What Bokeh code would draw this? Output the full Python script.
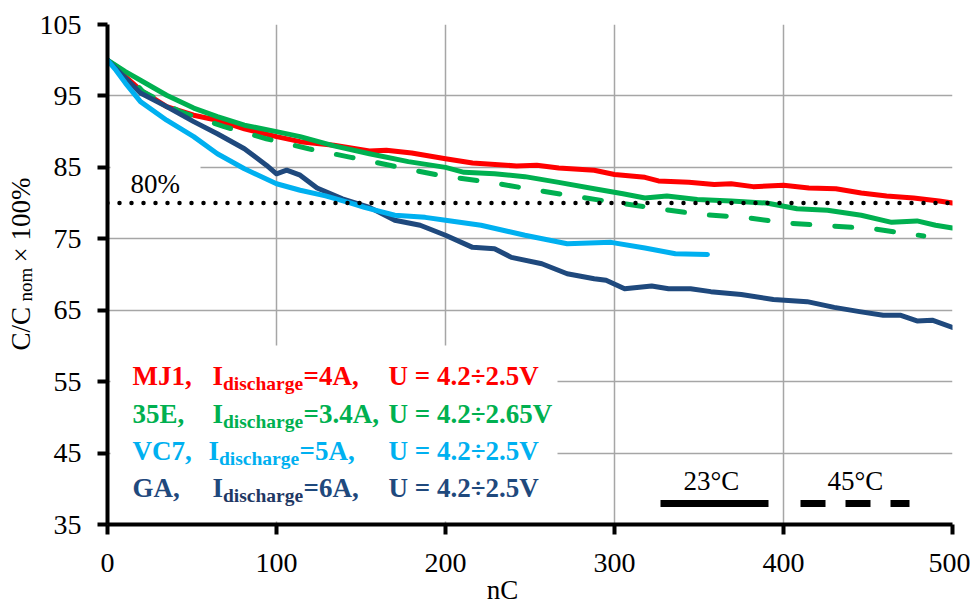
import math
from bokeh.plotting import figure
from bokeh.layouts import row, column
from bokeh.models import Range1d, FixedTicker, Label, BoxAnnotation
from bokeh.embed import file_html
from bokeh.resources import INLINE

# ---------------- data ----------------
mj1_n = [0, 5, 10.6, 19.5, 35, 51, 65, 81, 100, 114, 134, 155, 165, 180, 200, 216, 242, 254, 267, 288,
         300, 318, 326, 344, 359, 369, 382, 400, 415, 431, 446, 461, 477, 492, 500]
mj1_c = [100, 99.0, 97.7, 95.8, 93.5, 92.3, 91.6, 90.4, 89.3, 88.6, 88.1, 87.3, 87.4, 87.0, 86.2, 85.6, 85.2, 85.3, 84.9, 84.6,
         84.0, 83.6, 83.1, 82.9, 82.6, 82.7, 82.3, 82.5, 82.1, 82.0, 81.4, 81.0, 80.7, 80.3, 80.0]

e35_n = [0, 10.6, 19.5, 35, 51, 65, 81, 100, 114, 134, 155, 178, 200, 211, 229, 247, 267, 288, 305, 318,
         331, 349, 369, 390, 408, 426, 446, 464, 479, 490, 500]
e35_c = [100, 98.4, 97.2, 95.1, 93.3, 92.1, 90.9, 90.0, 89.3, 88.0, 86.9, 85.8, 85.0, 84.3, 84.1, 83.7, 82.9, 82.0, 81.3, 80.7,
         81.0, 80.5, 80.3, 80.0, 79.2, 79.0, 78.3, 77.3, 77.5, 76.9, 76.5]

e35h_n = [0, 10.6, 21, 43, 69, 94, 119, 144, 173, 198, 224, 249, 275, 300, 326, 351, 377, 402, 428, 453, 483]
e35h_c = [100, 98.2, 95.6, 92.8, 90.7, 89.0, 87.6, 86.4, 85.0, 83.8, 83.0, 82.0, 81.0, 80.1, 79.2, 78.4, 78.0, 77.2, 76.8, 76.4, 75.4]

vc7_n = [0, 5, 10.6, 19.5, 35, 51, 65, 81, 100, 114, 129, 144, 152, 170, 188, 200, 221, 247, 272, 298, 318, 336, 355]
vc7_c = [100, 98.6, 96.8, 94.2, 91.6, 89.3, 86.9, 84.8, 82.7, 81.8, 81.0, 80.0, 79.4, 78.3, 78.0, 77.6, 76.9, 75.5, 74.3, 74.5, 73.7, 72.9, 72.8]

ga_n = [0, 10.6, 19.5, 35, 51, 65, 81, 94, 100, 106, 114, 124, 139, 155, 170, 185, 200, 216, 229, 239, 257, 272, 288, 295,
        306, 322, 332, 345, 357, 375, 394, 414, 430, 445, 459, 469, 479, 488, 500]
ga_c = [100, 97.5, 95.4, 93.5, 91.4, 89.7, 87.6, 85.3, 84.1, 84.6, 83.9, 82.1, 80.6, 79.4, 77.6, 76.9, 75.5, 73.8, 73.6, 72.4, 71.5, 70.1, 69.4, 69.2,
        68.0, 68.4, 68.0, 68.0, 67.6, 67.2, 66.5, 66.2, 65.4, 64.8, 64.3, 64.3, 63.5, 63.6, 62.6]

limit_n = [0, 500]
limit_c = [80, 80]

x_ticks = [0, 100, 200, 300, 400, 500]
y_ticks = [35, 45, 55, 65, 75, 85, 95, 105]

RED = "#FF0000"
GREEN = "#00B050"
LBLUE = "#00B0F0"
DBLUE = "#1F497D"

FONT = "Liberation Serif"
BASE_FIX = 0.37   # empirical: rendered baseline sits this many em below the anchor

# ---------------- layout geometry (page pixels) ----------------
YL_W = 36                      # strip holding the vertical axis title
FX0, FX1, FY0, FY1 = 107.0, 952.0, 524.0, 24.0   # plot frame edges
MAIN_H = 580
XL_H = 24                      # strip holding the horizontal axis title
TOTAL_W = 970

# ---------------- main figure ----------------
p = figure(frame_width=int(FX1 - FX0), frame_height=int(FY0 - FY1),
           output_backend="svg", toolbar_location=None,
           x_range=Range1d(0, 500), y_range=Range1d(35, 105),
           min_border_left=int(FX0 - YL_W), min_border_right=int(TOTAL_W - FX1),
           min_border_top=int(FY1), min_border_bottom=int(MAIN_H - FY0))
p.outline_line_color = None
p.background_fill_color = "white"
p.border_fill_color = "white"

for ax, ticks in ((p.xaxis[0], x_ticks), (p.yaxis[0], y_ticks)):
    ax.ticker = FixedTicker(ticks=ticks)
    ax.axis_line_width = 4
    ax.axis_line_color = "black"
    ax.major_tick_line_width = 4
    ax.major_tick_line_color = "black"
    ax.major_tick_out = 10
    ax.major_tick_in = 0
    ax.minor_tick_line_color = None
    ax.major_label_text_font = FONT
    ax.major_label_text_font_size = "28px"
    ax.major_label_text_color = "black"
p.xaxis.major_label_standoff = 19
p.yaxis.major_label_standoff = 16

p.xgrid.ticker = FixedTicker(ticks=x_ticks)
p.ygrid.ticker = FixedTicker(ticks=y_ticks)
p.grid.grid_line_color = "#A6A6A6"
p.grid.grid_line_width = 1.5

# page pixel -> data helpers (for annotation placement inside the frame)
def dx(px):
    return (px - FX0) / (FX1 - FX0) * 500.0
def dy(py):
    return 35.0 + (FY0 - py) / (FY0 - FY1) * 70.0

# ---------------- series ----------------
p.line(mj1_n, mj1_c, line_color=RED, line_width=5, line_join="round", line_cap="round")
p.line(e35_n, e35_c, line_color=GREEN, line_width=5, line_join="round", line_cap="round")
p.line(e35h_n, e35h_c, line_color=GREEN, line_width=5, line_join="round", line_cap="round", line_dash="17 25")
p.line(ga_n, ga_c, line_color=DBLUE, line_width=5, line_join="round", line_cap="round")
p.line(vc7_n, vc7_c, line_color=LBLUE, line_width=5, line_join="round", line_cap="round")
p.line(limit_n, limit_c, line_color="black", line_width=4.5, line_cap="round", line_dash="0 12")

# white boxes behind texts
p.add_layout(BoxAnnotation(left=dx(110), right=dx(200), bottom=dy(197), top=dy(160),
                           fill_color="white", fill_alpha=1, line_color=None))
p.add_layout(BoxAnnotation(left=dx(110), right=dx(557), bottom=dy(521), top=dy(345),
                           fill_color="white", fill_alpha=1, line_color=None))

def lab(text, px, py, size=27, color="black", style="normal", align="left"):
    p.add_layout(Label(x=dx(px), y=dy(py - BASE_FIX * size), text=text, text_font=FONT,
                       text_font_size=f"{size}px", text_color=color, text_font_style=style,
                       text_align=align, text_baseline="alphabetic"))

# 80% label
lab("80%", 130, 193)

# series legend (rows)
rows = [
    ("MJ1,", 212, "=4A,", "U = 4.2÷2.5V", RED, RED, 385),
    ("35E,", 212, "=3.4A,", "U = 4.2÷2.65V", GREEN, GREEN, 423),
    ("VC7,", 208, "=5A,", "U = 4.2÷2.5V", LBLUE, LBLUE, 460),
    ("GA,", 212, "=6A,", "U = 4.2÷2.5V", DBLUE, "#1F3864", 497),
]
for name, xi, cur, volt, col, subcol, base in rows:
    lab(name, 132, base, color=col, style="bold")
    lab("I", xi, base, color=col, style="bold")
    lab("discharge", xi + 10.5, base + 5, size=19.5, color=subcol, style="bold")
    lab(cur, xi + 91, base, color=col, style="bold")
    lab(volt, 388, base, color=col, style="bold")

# temperature legend
lab("23°C", 683, 490)
lab("45°C", 827, 490)
p.line([dx(660), dx(768)], [dy(503), dy(503)], line_color="black", line_width=7)
p.line([dx(800), dx(909)], [dy(503), dy(503)], line_color="black", line_width=7, line_dash="25 20")

# ---------------- axis-title strips ----------------
def strip(w, h):
    f = figure(width=w, height=h, output_backend="svg", toolbar_location=None,
               x_axis_type=None, y_axis_type=None, x_range=Range1d(0, 1), y_range=Range1d(0, 1),
               min_border=0)
    f.outline_line_color = None
    f.background_fill_color = "white"
    f.border_fill_color = "white"
    return f

# the strip's frame is aligned with the main frame (rows align plot frames)
ystrip = strip(YL_W, MAIN_H)
def rlab(text, px, py, size=27):
    ystrip.add_layout(Label(x=px - BASE_FIX * size, y=FY0 - py, x_units="screen", y_units="screen",
                            text=text, text_font=FONT, text_font_size=f"{size}px", text_color="black",
                            text_align="left", text_baseline="alphabetic", angle=math.pi / 2))
rlab("C/C", 30, 350)
rlab("nom", 32, 301, size=19)
rlab("× 100%", 30, 262)

xstrip = strip(TOTAL_W, XL_H)
xstrip.add_layout(Label(x=502, y=XL_H - (599 - MAIN_H - BASE_FIX * 27), x_units="screen", y_units="screen",
                        text="nC", text_font=FONT, text_font_size="27px", text_color="black",
                        text_align="center", text_baseline="alphabetic"))

layout = column(row(ystrip, p, spacing=0), xstrip, spacing=0)

open("out.html", "w").write(file_html(layout, INLINE))
